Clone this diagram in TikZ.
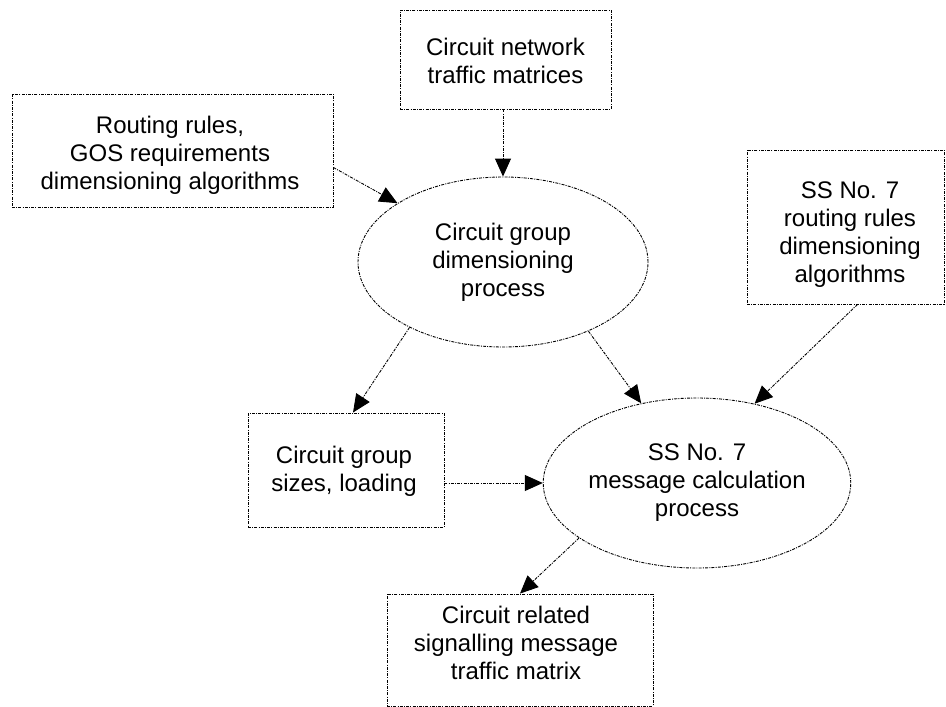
\documentclass[tikz,border=0pt]{standalone}
\usepackage{fontspec}
\setmainfont{Liberation Sans}
\usetikzlibrary{shapes.geometric,arrows.meta,calc}
\begin{document}
\begin{tikzpicture}[x=1pt,y=-1pt,
  dd/.style={line width=0.9pt,dash pattern=on 3pt off 1.2pt on 1pt off 1.2pt},
  box/.style={dd,draw,rectangle,inner sep=0pt},
  txt/.style={inner sep=0pt,align=center,font=\fontsize{24}{28}\selectfont},
  proc/.style={dd,draw,ellipse,inner sep=0pt,minimum width=290pt,minimum height=170pt,align=center,font=\fontsize{24}{28}\selectfont},
  conn/.style={dd,-{Triangle[length=18pt,width=16pt]}}]
\useasboundingbox (0,0) rectangle (946,707);
\node[box,minimum width=211pt,minimum height=99pt] (net) at (505.5,59.5) {};
\node[txt] (netT) at (505.5,61) {Circuit network\\traffic matrices};
\node[box,minimum width=321pt,minimum height=113pt] (rout) at (172.5,150.5) {};
\node[txt] (routT) at (170,155) {Routing rules,\\GOS requirements\\dimensioning algorithms};
\node[box,minimum width=197pt,minimum height=154pt] (ss7r) at (845.5,227) {};
\node[txt] (ss7rT) at (850,235) {SS No. 7\\routing rules\\dimensioning\\algorithms};
\node[box,minimum width=196pt,minimum height=114pt] (cgs) at (346,470) {};
\node[txt] (cgsT) at (344,471.5) {Circuit group\\sizes, loading};
\node[box,minimum width=266pt,minimum height=112pt] (out) at (520,650) {};
\node[txt] (outT) at (516,643) {Circuit related\\signalling message\\traffic matrix};
\node[proc] (e1) at (503,262) {Circuit group\\dimensioning\\process};
\node[proc,minimum width=288pt] (e2) at (697,483) {SS No. 7\\message calculation\\process};
\draw[conn] (e1.north |- net.south) -- (e1.north);
\draw[conn] ($(rout.east)+(0,17)$) -- (e1);
\draw[conn] (e1.215) -- ($(cgs.north)+(7,0)$);
\draw[conn] (e1.321) -- (e2.125);
\draw[conn] ($(ss7r.south)+(12,0)$) -- (e2.54);
\draw[conn] (cgs.east |- e2.west) -- (e2.west);
\draw[conn] (e2.205) -- (out.north);
\end{tikzpicture}
\end{document}
